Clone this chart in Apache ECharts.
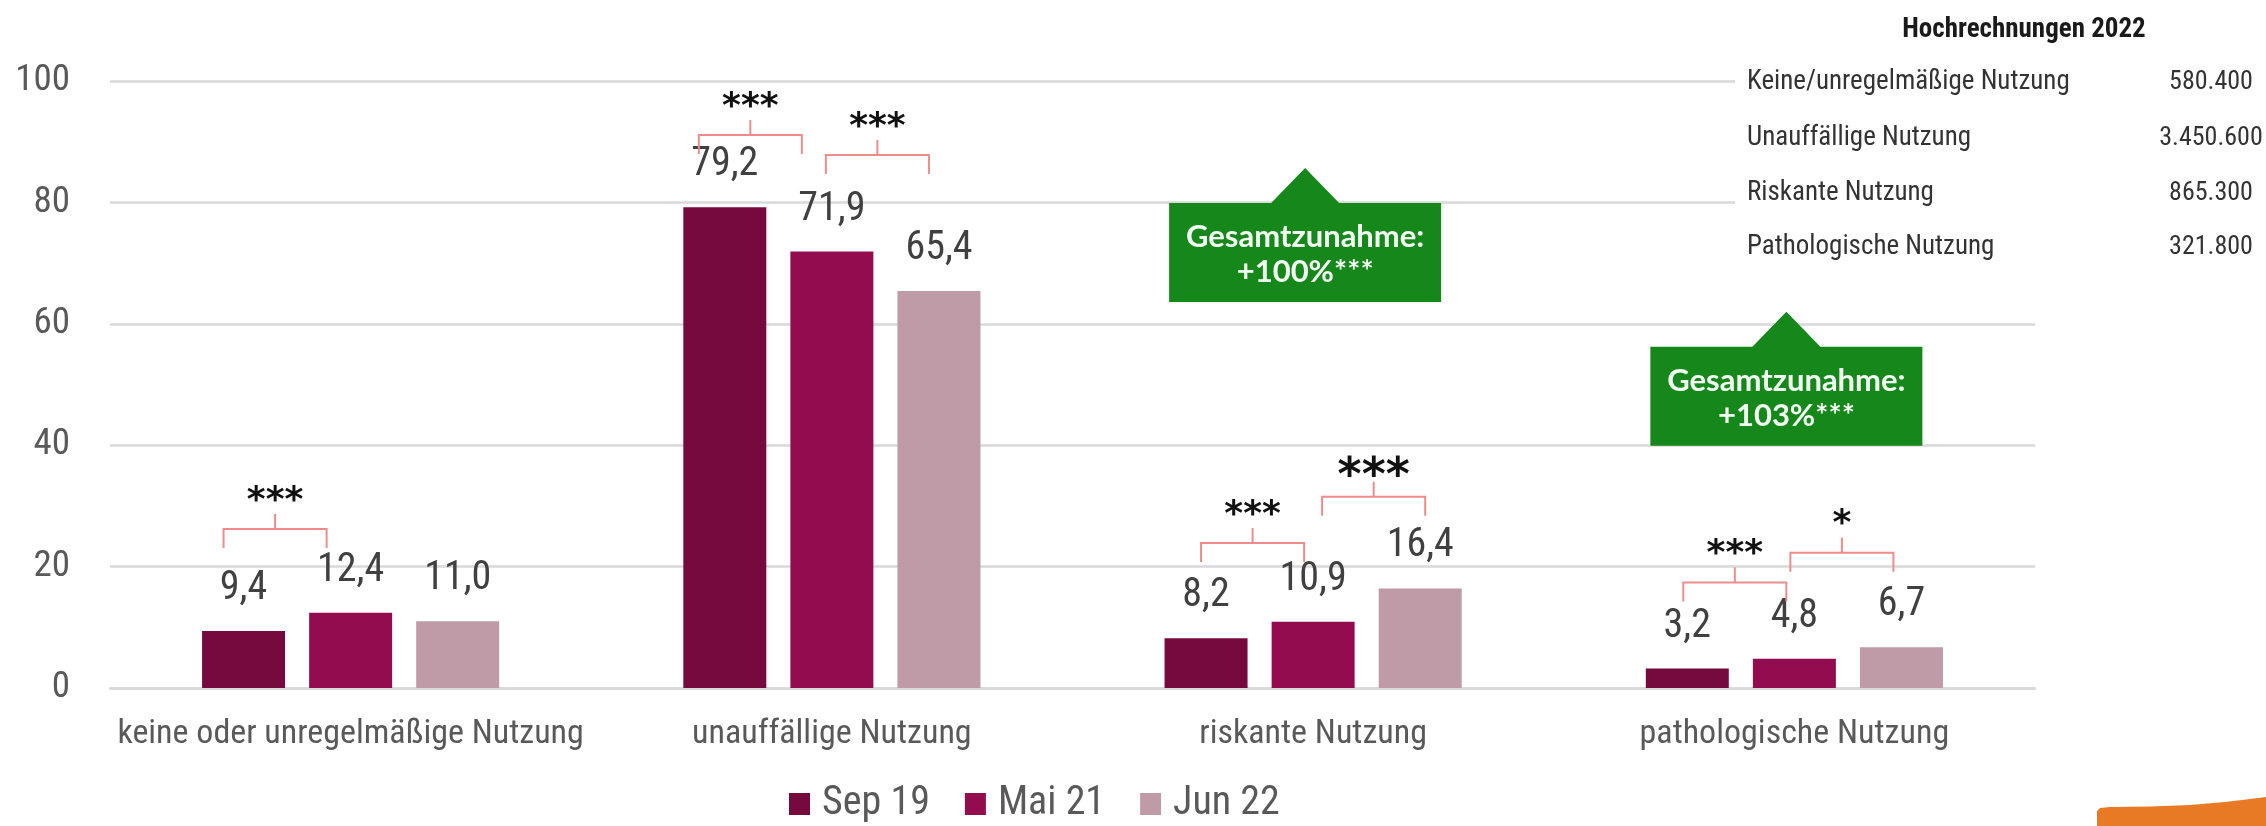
<!DOCTYPE html>
<html>
<head>
<meta charset="utf-8">
<script src="https://cdn.jsdelivr.net/npm/echarts@6/dist/echarts.min.js"></script>
<style>
  html, body { margin: 0; padding: 0; background: #ffffff; }
  #chart { width: 2266px; height: 826px; }
</style>
</head>
<body>
<div id="chart"></div>
<script>
// ---- data ----
const categories = [
  'keine oder unregelmäßige Nutzung',
  'unauffällige Nutzung',
  'riskante Nutzung',
  'pathologische Nutzung'
];
const waves = ['Sep 19', 'Mai 21', 'Jun 22'];
const sep19 = [9.4, 79.2, 8.2, 3.2];
const mai21 = [12.4, 71.9, 10.9, 4.8];
const jun22 = [11.0, 65.4, 16.4, 6.7];
const yTicks = [0, 20, 40, 60, 80, 100];

// significance brackets: [category, from wave, to wave, level on value axis, marker]
const brackets = [
  [0, 0, 1, 26.2, '***'],
  [1, 0, 1, 91.1, '***'],
  [1, 1, 2, 87.8, '***'],
  [2, 0, 1, 23.9, '***'],
  [2, 1, 2, 31.5, '***'],
  [3, 0, 1, 17.4, '***'],
  [3, 1, 2, 22.3, '*']
];

// green callouts: [category, top level on value axis, line 1, line 2]
const callouts = [
  [2, 79.9, 'Gesamtzunahme:', '+100%***'],
  [3, 56.2, 'Gesamtzunahme:', '+103%***']
];

const tableTitle = 'Hochrechnungen 2022';
const tableLabels = [
  'Keine/unregelmäßige Nutzung',
  'Unauffällige Nutzung',
  'Riskante Nutzung',
  'Pathologische Nutzung'
];
const tableValues = ['580.400', '3.450.600', '865.300', '321.800'];

// ---- look ----
const NARROW = "'Roboto Condensed','Liberation Sans Narrow','Open Sans Condensed','Liberation Sans',sans-serif";
const COLORS = ['#760a3f', '#930c4f', '#bf9aa7'];
const BAR_W = 83;
const BAR_GAP = 0.29;
const BRACKET_COLOR = '#ee8c8c';
const GREEN = '#16871b';
// fine horizontal nudges and marker sizes for the brackets
const bracketLook = [
  { dx: -20, size: 36 }, { dx: -26, size: 36 }, { dx: -6, size: 36 },
  { dx: -5, size: 36 }, { dx: 9, size: 46 }, { dx: -4, size: 36 }, { dx: -4, size: 36 }
];

const chart = echarts.init(document.getElementById('chart'), null, { renderer: 'canvas' });

const fmt = v => v.toFixed(1).replace('.', ',');

const series = [sep19, mai21, jun22].map((vals, i) => ({
  name: waves[i],
  type: 'bar',
  data: vals,
  barWidth: BAR_W,
  barGap: (BAR_GAP * 100) + '%',
  itemStyle: { color: COLORS[i] },
  label: {
    show: true,
    position: 'top',
    distance: 22,
    formatter: p => fmt(p.value),
    fontFamily: NARROW,
    fontSize: 40,
    color: '#404040'
  }
}));

chart.setOption({
  animation: false,
  backgroundColor: '#ffffff',
  grid: { left: 110, right: 231, top: 81, bottom: 138, containLabel: false },
  legend: {
    data: waves,
    left: 789,
    top: 784,
    padding: 0,
    icon: 'rect',
    itemWidth: 21,
    itemHeight: 22,
    itemGap: 35,
    textStyle: { fontFamily: NARROW, fontSize: 40, color: '#595959', padding: [0, 0, 0, 7] }
  },
  xAxis: {
    type: 'category',
    data: categories,
    axisLine: { show: true, lineStyle: { color: '#d9d9d9', width: 2.5 } },
    axisTick: { show: false },
    axisLabel: { interval: 0, fontFamily: NARROW, fontSize: 34, color: '#595959', margin: 29 }
  },
  yAxis: {
    type: 'value',
    min: yTicks[0],
    max: yTicks[yTicks.length - 1],
    interval: yTicks[1] - yTicks[0],
    axisLine: { show: false },
    axisTick: { show: false },
    splitLine: { lineStyle: { color: '#d9d9d9', width: 2.5 } },
    axisLabel: { fontFamily: NARROW, fontSize: 37, color: '#595959', margin: 40 }
  },
  series: series
});

// ---- annotations positioned through the chart's own scales ----
function barCenterX(cat, wave) {
  const c = chart.convertToPixel({ xAxisIndex: 0, yAxisIndex: 0 }, [cat, 0])[0];
  return c + (wave - 1) * BAR_W * (1 + BAR_GAP);
}
function yPix(v) {
  return chart.convertToPixel({ xAxisIndex: 0, yAxisIndex: 0 }, [0, v])[1];
}

const graphics = [];

// white panel behind the projection table
graphics.push({
  type: 'rect', z: 10,
  shape: { x: 1735, y: 0, width: 531, height: 290 },
  style: { fill: '#ffffff' }
});
graphics.push({
  type: 'text', z: 11, x: 2024, y: 30,
  style: {
    text: tableTitle, fontFamily: NARROW, fontWeight: 'bold', fontSize: 27,
    fill: '#1a1a1a', align: 'center', verticalAlign: 'middle'
  }
});
const rowY = [82, 138, 193, 247];
tableLabels.forEach((t, i) => {
  graphics.push({
    type: 'text', z: 11, x: 1747, y: rowY[i],
    style: { text: t, fontFamily: NARROW, fontSize: 27, fill: '#333333', align: 'left', verticalAlign: 'middle' }
  });
  graphics.push({
    type: 'text', z: 11, x: 2211, y: rowY[i],
    style: { text: tableValues[i], fontFamily: NARROW, fontSize: 26, fill: '#333333', align: 'center', verticalAlign: 'middle' }
  });
});

// significance brackets
brackets.forEach((b, i) => {
  const [cat, from, to, level, mark] = b;
  const look = bracketLook[i];
  const x1 = barCenterX(cat, from) + look.dx;
  const x2 = barCenterX(cat, to) + look.dx - 4;
  const y = yPix(level);
  const xm = (x1 + x2) / 2;
  graphics.push({
    type: 'polyline', z: 5,
    shape: { points: [[x1, y + 19], [x1, y], [x2, y], [x2, y + 19]] },
    style: { stroke: BRACKET_COLOR, lineWidth: 2, fill: null }
  });
  graphics.push({
    type: 'line', z: 5,
    shape: { x1: xm, y1: y, x2: xm, y2: y - 15 },
    style: { stroke: BRACKET_COLOR, lineWidth: 2 }
  });
  const rise = look.size > 40 ? 29 : 36;
  graphics.push({
    type: 'text', z: 6, x: xm, y: y - rise + 0.23 * look.size,
    style: {
      text: mark, fontFamily: "'DejaVu Sans',sans-serif", fontWeight: 'bold',
      fontSize: look.size, fill: '#111111', align: 'center', verticalAlign: 'middle'
    }
  });
});

// green callouts with pointer
callouts.forEach(c => {
  const [cat, top, l1, l2] = c;
  const cx = chart.convertToPixel({ xAxisIndex: 0, yAxisIndex: 0 }, [cat, 0])[0] - 8;
  const ty = yPix(top);
  const w = 272, h = 99;
  graphics.push({
    type: 'polygon', z: 12,
    shape: { points: [
      [cx - w / 2, ty], [cx - 34, ty], [cx, ty - 35], [cx + 34, ty], [cx + w / 2, ty],
      [cx + w / 2, ty + h], [cx - w / 2, ty + h]
    ] },
    style: { fill: GREEN }
  });
  graphics.push({
    type: 'text', z: 13, x: cx, y: ty + 34,
    style: { text: l1, fontFamily: 'Lato, sans-serif', fontWeight: 'bold', fontSize: 31, fill: '#f4fff4', align: 'center', verticalAlign: 'middle' }
  });
  graphics.push({
    type: 'text', z: 13, x: cx, y: ty + 69,
    style: { text: l2, fontFamily: 'Lato, sans-serif', fontWeight: 'bold', fontSize: 31, fill: '#f4fff4', align: 'center', verticalAlign: 'middle' }
  });
});

// orange corner swoosh
graphics.push({
  type: 'polygon', z: 10,
  shape: { points: [
    [2097, 826], [2097, 811], [2100, 808], [2110, 807], [2150, 806.5], [2190, 805],
    [2225, 802], [2250, 799], [2266, 797], [2266, 826]
  ] },
  style: { fill: '#e97a25' }
});

chart.setOption({ graphic: graphics });
</script>
</body>
</html>
